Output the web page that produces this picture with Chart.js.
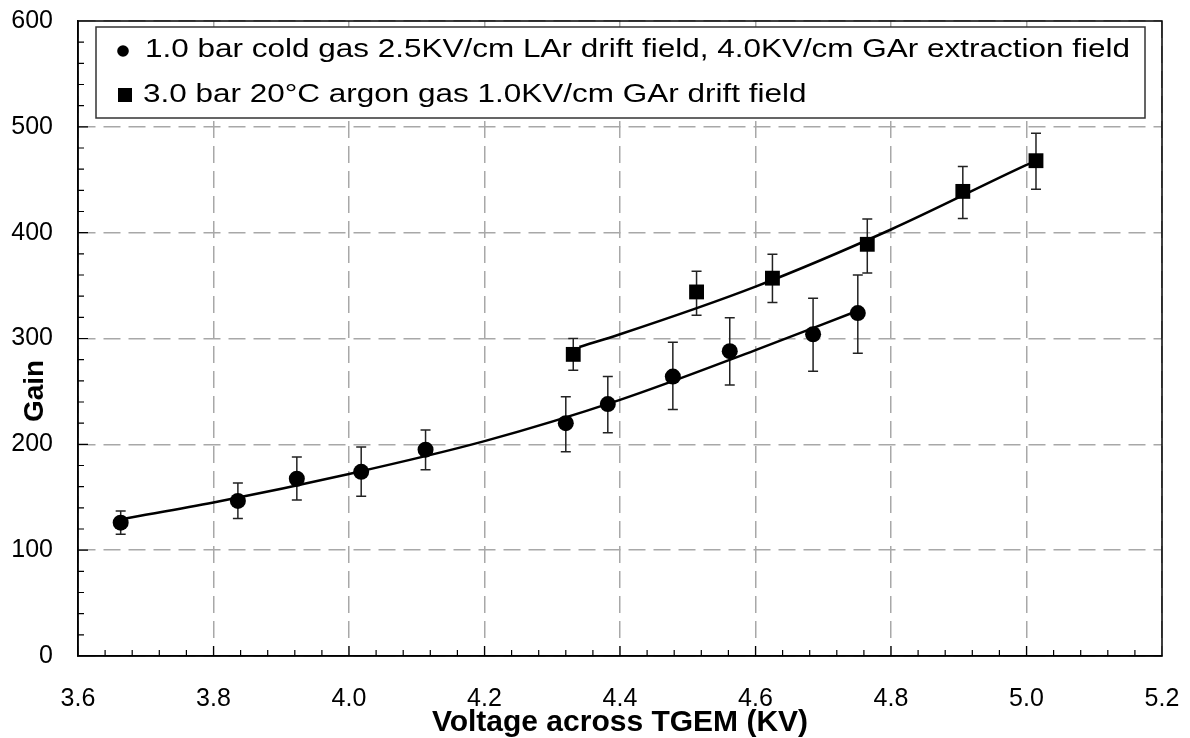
<!DOCTYPE html>
<html>
<head>
<meta charset="utf-8">
<script src="https://cdn.jsdelivr.net/npm/chart.js@4.4.0/dist/chart.umd.min.js"></script>
<style>
  html, body { margin: 0; padding: 0; background: #fff; }
  #chart { display: block; }
</style>
</head>
<body>
<canvas id="chart" width="1190" height="738"></canvas>
<script>
// 1.0 bar cold gas, circles
const coldVoltage = [3.663, 3.836, 3.923, 4.018, 4.113, 4.320, 4.382, 4.478, 4.562, 4.685, 4.751];
const coldGain = [126, 146.5, 167.5, 174, 195, 220, 238, 264, 288, 304, 324];
const coldLow = [115, 130, 147.5, 151, 176, 193, 211, 233, 256, 269, 286];
const coldHigh = [137, 163.5, 188, 197.5, 213.5, 245, 264, 296.5, 319.5, 338, 360];
// fit curve
const coldFitVoltage = [3.67, 3.8, 4.0, 4.2, 4.4, 4.6, 4.75];
const coldFitGain = [130, 145, 172, 203, 242, 289, 326];

// 3.0 bar warm argon, squares
const warmVoltage = [4.331, 4.513, 4.625, 4.765, 4.906, 5.014];
const warmGain = [285, 344, 357, 389, 439, 468];
const warmLow = [270, 322, 334, 362, 413.5, 441];
const warmHigh = [300, 363.5, 379.5, 413, 462.5, 494];
const warmFitVoltage = [4.34, 4.4, 4.6, 4.8, 5.0, 5.014];
const warmFitGain = [292, 304, 349, 403, 464, 468];

const seriesLabels = [
  "1.0 bar cold gas 2.5KV/cm LAr drift field, 4.0KV/cm GAr extraction field",
  "3.0 bar 20\u00B0C argon gas 1.0KV/cm GAr drift field"
];
const xTitle = "Voltage across TGEM (KV)";
const yTitle = "Gain";
const xMin = 3.6, xMax = 5.2, xStep = 0.2, xMinor = 0.04;
const yMin = 0, yMax = 600, yStep = 100, yMinor = 20;

function toPoints(xs, ys) {
  let pts = [];
  for (let i = 0; i < xs.length; i++) {
    pts.push({ x: xs[i], y: ys[i] });
  }
  return pts;
}

const FONT = "'Liberation Sans', Arial, sans-serif";

// error bars under the markers
const errorBars = {
  id: "errorBars",
  beforeDatasetsDraw(chart) {
    const ctx = chart.ctx;
    const xs = chart.scales.x;
    const ys = chart.scales.y;
    ctx.save();
    ctx.strokeStyle = "#222";
    ctx.lineWidth = 1.5;
    [[coldVoltage, coldLow, coldHigh], [warmVoltage, warmLow, warmHigh]].forEach(function (s) {
      for (let i = 0; i < s[0].length; i++) {
        let px = xs.getPixelForValue(s[0][i]);
        let top = ys.getPixelForValue(s[2][i]);
        let bot = ys.getPixelForValue(s[1][i]);
        ctx.beginPath();
        ctx.moveTo(px, top);
        ctx.lineTo(px, bot);
        ctx.moveTo(px - 5, top);
        ctx.lineTo(px + 5, top);
        ctx.moveTo(px - 5, bot);
        ctx.lineTo(px + 5, bot);
        ctx.stroke();
      }
    });
    ctx.restore();
  }
};

// frame, inner ticks, y title and boxed legend
const decorations = {
  id: "decorations",
  afterDraw(chart) {
    const ctx = chart.ctx;
    const area = chart.chartArea;
    const xs = chart.scales.x;
    const ys = chart.scales.y;
    ctx.save();
    ctx.strokeStyle = "#000";
    ctx.lineWidth = 1.5;
    ctx.strokeRect(area.left, area.top, area.right - area.left, area.bottom - area.top);

    ctx.lineWidth = 1.2;
    ctx.beginPath();
    let nx = Math.round((xMax - xMin) / xMinor);
    for (let i = 1; i < nx; i++) {
      let px = xs.getPixelForValue(xMin + i * xMinor);
      let len = i % 5 === 0 ? 10 : 6;
      ctx.moveTo(px, area.bottom);
      ctx.lineTo(px, area.bottom - len);
    }
    let ny = Math.round((yMax - yMin) / yMinor);
    for (let i = 1; i < ny; i++) {
      let py = ys.getPixelForValue(yMin + i * yMinor);
      let len = i % 5 === 0 ? 10 : 6;
      ctx.moveTo(area.left, py);
      ctx.lineTo(area.left + len, py);
    }
    ctx.stroke();

    // y axis title
    ctx.save();
    ctx.translate(35, 391);
    ctx.rotate(-Math.PI / 2);
    ctx.fillStyle = "#000";
    ctx.font = "bold 28px " + FONT;
    ctx.textAlign = "center";
    ctx.textBaseline = "middle";
    ctx.fillText(yTitle, 0, 0);
    ctx.restore();

    // legend box
    let bx = area.left + 18, by = area.top + 6;
    let bw = area.right - 17 - bx, bh = 97 - 6;
    ctx.fillStyle = "#fff";
    ctx.fillRect(bx, by, bw, bh);
    ctx.strokeStyle = "#333";
    ctx.lineWidth = 1.5;
    ctx.strokeRect(bx, by, bw, bh);

    ctx.fillStyle = "#000";
    ctx.beginPath();
    ctx.arc(bx + 27, by + 24, 5.8, 0, Math.PI * 2);
    ctx.fill();
    ctx.fillRect(bx + 22, by + 61, 14, 14);

    ctx.font = "25px " + FONT;
    ctx.textBaseline = "middle";
    ctx.textAlign = "left";
    let target = 985;
    let sx = target / ctx.measureText(seriesLabels[0]).width;
    ctx.save();
    ctx.translate(bx + 49, by + 23);
    ctx.scale(sx, 1);
    ctx.fillText(seriesLabels[0], 0, 0);
    ctx.restore();
    ctx.save();
    ctx.translate(bx + 47, by + 68);
    ctx.scale(sx, 1);
    ctx.fillText(seriesLabels[1], 0, 0);
    ctx.restore();
    ctx.restore();
  }
};

function noEdgePadding(scale) {
  scale.paddingLeft = 0;
  scale.paddingRight = 0;
  scale.paddingTop = 0;
  scale.paddingBottom = 0;
}

const ctx = document.getElementById("chart");

new Chart(ctx, {
  type: "scatter",
  data: {
    datasets: [
      {
        label: "cold fit",
        data: toPoints(coldFitVoltage, coldFitGain),
        showLine: true,
        pointRadius: 0,
        borderColor: "#000",
        borderWidth: 2.5,
        cubicInterpolationMode: "monotone",
        order: 2,
      },
      {
        label: "warm fit",
        data: toPoints(warmFitVoltage, warmFitGain),
        showLine: true,
        pointRadius: 0,
        borderColor: "#000",
        borderWidth: 2.5,
        cubicInterpolationMode: "monotone",
        order: 2,
      },
      {
        label: seriesLabels[0],
        data: toPoints(coldVoltage, coldGain),
        pointStyle: "circle",
        pointRadius: 8,
        backgroundColor: "#000",
        borderColor: "#000",
        borderWidth: 0,
        order: 1,
      },
      {
        label: seriesLabels[1],
        data: toPoints(warmVoltage, warmGain),
        pointStyle: "rect",
        pointRadius: 10.5,
        backgroundColor: "#000",
        borderColor: "#000",
        borderWidth: 0,
        order: 1,
      },
    ],
  },
  options: {
    responsive: false,
    animation: false,
    events: [],
    layout: {
      padding: { top: 21, right: 28, left: 0, bottom: 0 },
    },
    scales: {
      x: {
        type: "linear",
        min: xMin,
        max: xMax,
        afterFit: function (scale) {
          scale.height = 82;
          noEdgePadding(scale);
        },
        ticks: {
          stepSize: xStep,
          padding: 28,
          color: "#000",
          font: { family: FONT, size: 25 },
          callback: function (v) { return v.toFixed(1); },
        },
        grid: {
          color: "#a8a8a8",
          lineWidth: 1.5,
          drawTicks: false,
        },
        border: { color: "#000", width: 1.5, dash: [17, 8] },
        title: {
          display: true,
          text: xTitle,
          color: "#000",
          font: { family: FONT, size: 30, weight: "bold" },
          padding: { top: 0, bottom: -3 },
        },
      },
      y: {
        type: "linear",
        min: yMin,
        max: yMax,
        afterFit: function (scale) {
          scale.width = 78;
          noEdgePadding(scale);
        },
        ticks: {
          stepSize: yStep,
          padding: 25,
          color: "#000",
          font: { family: FONT, size: 25 },
        },
        grid: {
          color: "#a8a8a8",
          lineWidth: 1.5,
          drawTicks: false,
        },
        border: { color: "#000", width: 1.5, dash: [17, 8] },
      },
    },
    plugins: {
      legend: { display: false },
      tooltip: { enabled: false },
    },
  },
  plugins: [errorBars, decorations],
});
</script>
</body>
</html>
